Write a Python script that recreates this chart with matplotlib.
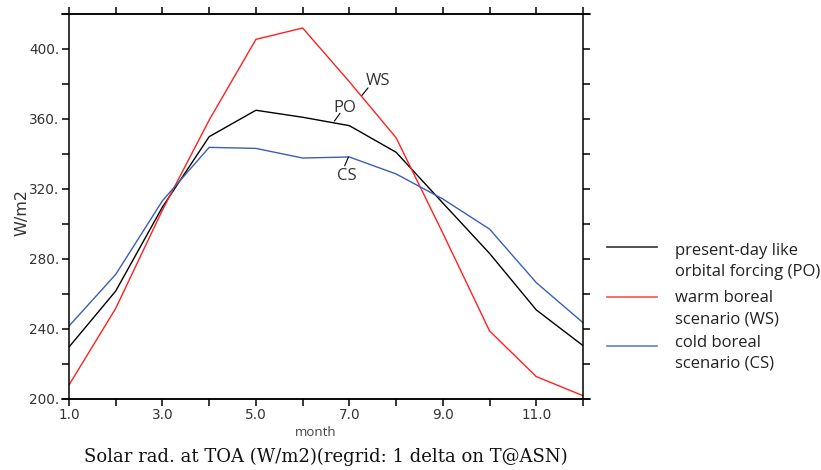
import matplotlib
matplotlib.use("Agg")
import matplotlib.pyplot as plt
from matplotlib.lines import Line2D

months = list(range(1, 13))
po = [229.7, 261.7, 309.7, 349.9, 365.0, 361.0, 356.2, 341.0, 312.0, 283.2, 250.9, 230.5]
ws = [208.0, 251.8, 308.0, 359.4, 405.5, 412.0, 381.3, 349.3, 294.8, 238.9, 212.8, 201.9]
cs = [241.7, 271.2, 313.3, 343.8, 343.2, 337.7, 338.3, 328.6, 314.3, 297.1, 266.5, 243.6]
labels = [["present-day like", "orbital forcing (PO)"], ["warm boreal", "scenario (WS)"], ["cold boreal", "scenario (CS)"]]
colors = ["#000000", "#ff2020", "#3a5fb5"]
xtick_vals = [1, 3, 5, 7, 9, 11]
ytick_vals = [200, 240, 280, 320, 360, 400]

W, H = 821, 470
fig = plt.figure(figsize=(W/100, H/100), dpi=100)
ax = fig.add_axes([69/W, 1-399/H, (583-69)/W, (399-14)/H])

for ser, c in zip([po, ws, cs], colors):
    ax.plot(months, ser, color=c, lw=1.0)

ax.set_xlim(1, 12)
ax.set_ylim(200, 420)
ax.set_xticks(range(1, 13))
ax.set_xticklabels([f"{m:.1f}" if m in xtick_vals else "" for m in range(1, 13)])
ax.set_yticks(range(200, 421, 20))
ax.set_yticklabels([f"{v}." if v in ytick_vals else "" for v in range(200, 421, 20)])
ax.tick_params(direction="out", length=5.3, width=1.1, labelsize=9.8, labelcolor="#333333",
               top=True, right=True, pad=1.5)
for s in ax.spines.values():
    s.set_linewidth(1.1)
# extended horizontal frame lines
for yy in (0, 1):
    ax.plot([-0.014, 1.014], [yy, yy], color="black", lw=1.1, transform=ax.transAxes, clip_on=False)

fig.text(22/W, 1-212/H, "W/m2", rotation=90, fontsize=11.5, color="#333333", ha="center", va="center")
fig.text(316/W, 1-432/H, "month", fontsize=9.5, color="#444444", family="Open Sans", ha="center", va="center")

# inline labels with leader lines
lab_kw = dict(fontsize=12, family="Open Sans", color="#333333", ha="center", va="center")
arr = dict(arrowstyle="-", color="black", lw=0.8, shrinkA=0, shrinkB=0)
ax.text(7.62, 381.5, "WS", **lab_kw)
ax.annotate("", xy=(7.27, 373.5), xytext=(7.40, 377.8), arrowprops=arr)
ax.text(6.9, 366.3, "PO", **lab_kw)
ax.annotate("", xy=(6.68, 358.8), xytext=(6.8, 363.3), arrowprops=arr)
ax.text(6.94, 327.4, "CS", **lab_kw)
ax.annotate("", xy=(6.98, 338.3), xytext=(6.9, 333.2), arrowprops=arr)

# legend
handle_y = [247.5, 296.5, 345.5]
text_y = [[251, 272], [298, 320], [343, 364]]
for c, hy, ty, lab in zip(colors, handle_y, text_y, labels):
    fig.add_artist(Line2D([607/W, 657/W], [1-hy/H, 1-hy/H], color=c, lw=1.2, alpha=0.8))
    for yy, t in zip(ty, lab):
        fig.text(675/W, 1-yy/H, t, fontsize=12, family="Open Sans", color="#222222", ha="left", va="center")

fig.text(326/W, 1-457/H, "Solar rad. at TOA (W/m2)(regrid: 1 delta on T@ASN)",
         ha="center", va="center", fontsize=13, family="DejaVu Serif", color="#111111")

fig.savefig("out.png", dpi=100)
